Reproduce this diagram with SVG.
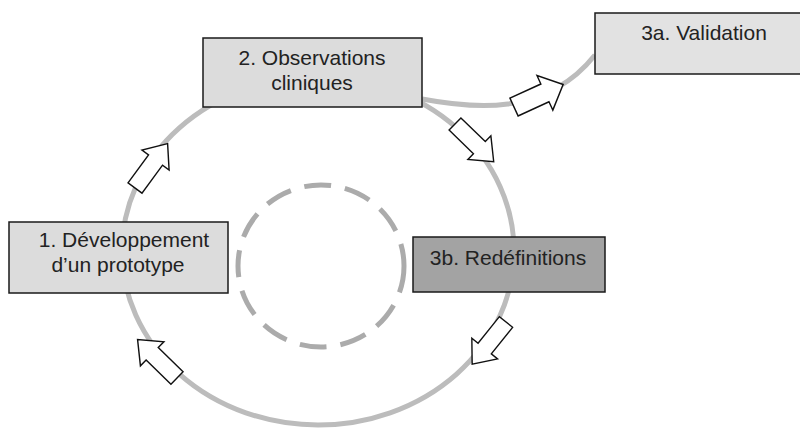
<svg xmlns="http://www.w3.org/2000/svg" width="800" height="432" viewBox="0 0 800 432">
<style>
.box{stroke:#1a1a1a;stroke-width:1.5}
.lt{fill:#dcdcdc}
.dk{fill:#a3a3a3}
text{font-family:"Liberation Sans",Arial,sans-serif;font-size:21px;fill:#222;text-anchor:middle}
.ring{fill:none;stroke:#bcbcbc;stroke-width:5}
.dash{fill:none;stroke:#ababab;stroke-width:5;stroke-dasharray:27 14}
.arr{fill:#fff;stroke:#111;stroke-width:1.4;stroke-linejoin:miter}
</style>
<defs>
<polygon id="ba" points="0,-8.5 34,-8.5 34,-16.5 54,0 34,16.5 34,8.5 0,8.5"/>
</defs>
<rect width="800" height="432" fill="#fff"/>
<g id="connectors">
<ellipse class="ring" cx="318" cy="251" rx="196" ry="174"/>
<ellipse class="dash" cx="321" cy="266" rx="83" ry="81"/>
<path class="ring" d="M422,99 C470,108 545,118 595,55"/>
<use href="#ba" class="arr" transform="translate(135,188) rotate(-53.7) scale(1.02)"/>
<use href="#ba" class="arr" transform="translate(455,124) rotate(44.2)"/>
<use href="#ba" class="arr" transform="translate(514,107) rotate(-24.6) scale(1.0,1.15)"/>
<use href="#ba" class="arr" transform="translate(506,322) rotate(128.8)"/>
<use href="#ba" class="arr" transform="translate(177,378) rotate(-135.7) scale(1.02)"/>
</g>
<g id="node1">
<rect class="box lt" x="9" y="222" width="219" height="71"/>
<text x="124" y="247">1. Développement</text>
<text x="118" y="272">d’un prototype</text>
</g>
<g id="node2">
<rect class="box lt" x="203" y="38" width="219" height="69"/>
<text x="312" y="65">2. Observations</text>
<text x="312" y="90">cliniques</text>
</g>
<g id="node3a">
<rect class="box" fill="#e2e2e2" x="595" y="13" width="219" height="61"/>
<text x="704" y="40">3a. Validation</text>
</g>
<g id="node3b">
<rect class="box dk" x="413" y="237" width="192" height="55"/>
<text x="508" y="265">3b. Redéfinitions</text>
</g>
</svg>
